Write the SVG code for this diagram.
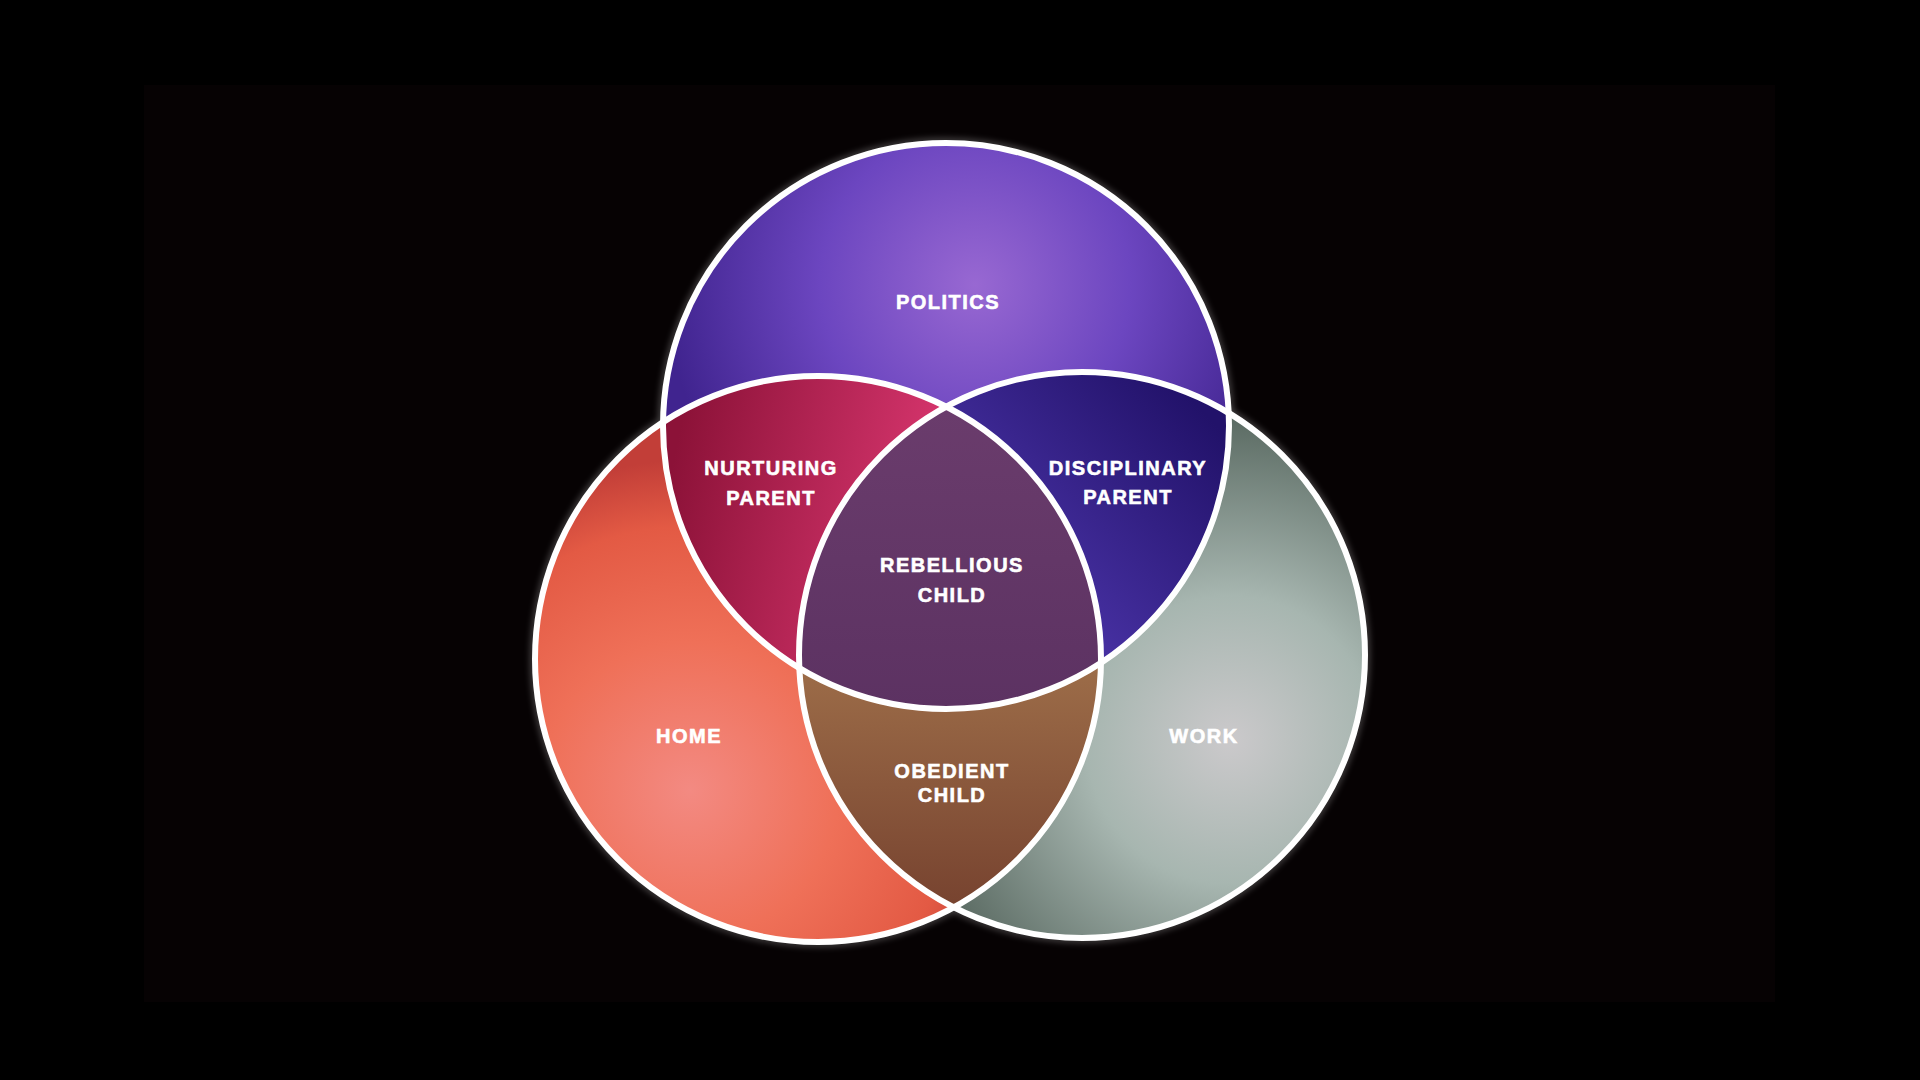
<svg xmlns="http://www.w3.org/2000/svg" width="1920" height="1080" viewBox="0 0 1920 1080">
  <style>
    .lbl { font-family: "Liberation Sans", Arial, sans-serif; font-weight: bold; font-size: 20px; fill: #ffffff; stroke: #ffffff; stroke-width: 0.6px; text-anchor: middle; letter-spacing: 1.5px; }
    .ring { fill: none; stroke: #ffffff; stroke-width: 6; }
  </style>
  <defs>
    <radialGradient id="gPol" gradientUnits="userSpaceOnUse" cx="975" cy="285" r="310">
      <stop offset="0" stop-color="#9868d2"/>
      <stop offset="0.5" stop-color="#6c46c0"/>
      <stop offset="1" stop-color="#40248f"/>
    </radialGradient>
    <radialGradient id="gHome" gradientUnits="userSpaceOnUse" cx="690" cy="790" r="330">
      <stop offset="0" stop-color="#f38a82"/>
      <stop offset="0.45" stop-color="#ef7058"/>
      <stop offset="0.8" stop-color="#e35a44"/>
      <stop offset="1" stop-color="#c23e38"/>
    </radialGradient>
    <radialGradient id="gWork" gradientUnits="userSpaceOnUse" cx="1230" cy="740" r="320">
      <stop offset="0" stop-color="#cbc9cb"/>
      <stop offset="0.45" stop-color="#a7b6b0"/>
      <stop offset="1" stop-color="#5c6c64"/>
    </radialGradient>
    <linearGradient id="gNur" gradientUnits="userSpaceOnUse" x1="680" y1="430" x2="920" y2="480">
      <stop offset="0" stop-color="#8c1238"/>
      <stop offset="1" stop-color="#d2336a"/>
    </linearGradient>
    <linearGradient id="gDis" gradientUnits="userSpaceOnUse" x1="1220" y1="430" x2="1000" y2="640">
      <stop offset="0" stop-color="#22126a"/>
      <stop offset="1" stop-color="#5038b0"/>
    </linearGradient>
    <linearGradient id="gReb" gradientUnits="userSpaceOnUse" x1="950" y1="410" x2="950" y2="710">
      <stop offset="0" stop-color="#6a3c6c"/>
      <stop offset="1" stop-color="#5c3262"/>
    </linearGradient>
    <linearGradient id="gObe" gradientUnits="userSpaceOnUse" x1="950" y1="670" x2="950" y2="900">
      <stop offset="0" stop-color="#9c6c48"/>
      <stop offset="1" stop-color="#784430"/>
    </linearGradient>
    <clipPath id="cHome"><circle cx="818" cy="659" r="283"/></clipPath>
    <clipPath id="cWork"><circle cx="1082" cy="655" r="283"/></clipPath>
    <filter id="glow" x="-20%" y="-20%" width="140%" height="140%">
      <feGaussianBlur stdDeviation="3"/>
    </filter>
  </defs>

  <rect x="0" y="0" width="1920" height="1080" fill="#000000"/>
  <rect x="144" y="85" width="1631" height="917" fill="#060203"/>

  <g opacity="0.25" filter="url(#glow)">
    <circle cx="818" cy="659" r="285" fill="none" stroke="#ffffff" stroke-width="6"/>
    <circle cx="1082" cy="655" r="285" fill="none" stroke="#ffffff" stroke-width="6"/>
    <circle cx="946" cy="426" r="285" fill="none" stroke="#ffffff" stroke-width="6"/>
  </g>

  <g id="home">
    <circle cx="818" cy="659" r="283" fill="url(#gHome)"/>
  </g>
  <g id="work">
    <circle cx="1082" cy="655" r="283" fill="url(#gWork)"/>
  </g>
  <g id="politics">
    <circle cx="946" cy="426" r="283" fill="url(#gPol)"/>
  </g>
  <g id="obedient-child">
    <g clip-path="url(#cHome)">
      <circle cx="1082" cy="655" r="283" fill="url(#gObe)"/>
    </g>
  </g>
  <g id="nurturing-parent">
    <g clip-path="url(#cHome)">
      <circle cx="946" cy="426" r="283" fill="url(#gNur)"/>
    </g>
  </g>
  <g id="disciplinary-parent">
    <g clip-path="url(#cWork)">
      <circle cx="946" cy="426" r="283" fill="url(#gDis)"/>
    </g>
  </g>
  <g id="rebellious-child">
    <g clip-path="url(#cHome)">
      <g clip-path="url(#cWork)">
        <circle cx="946" cy="426" r="283" fill="url(#gReb)"/>
      </g>
    </g>
  </g>

  <g id="outlines">
    <circle class="ring" cx="818" cy="659" r="283"/>
    <circle class="ring" cx="1082" cy="655" r="283"/>
    <circle class="ring" cx="946" cy="426" r="283"/>
  </g>

  <g id="labels">
    <text class="lbl" x="948" y="309">POLITICS</text>
    <text class="lbl" x="771" y="475">NURTURING</text>
    <text class="lbl" x="771" y="505">PARENT</text>
    <text class="lbl" x="1128" y="475">DISCIPLINARY</text>
    <text class="lbl" x="1128" y="504">PARENT</text>
    <text class="lbl" x="952" y="572">REBELLIOUS</text>
    <text class="lbl" x="952" y="602">CHILD</text>
    <text class="lbl" x="689" y="743">HOME</text>
    <text class="lbl" x="1204" y="743">WORK</text>
    <text class="lbl" x="952" y="778">OBEDIENT</text>
    <text class="lbl" x="952" y="802">CHILD</text>
  </g>
</svg>
